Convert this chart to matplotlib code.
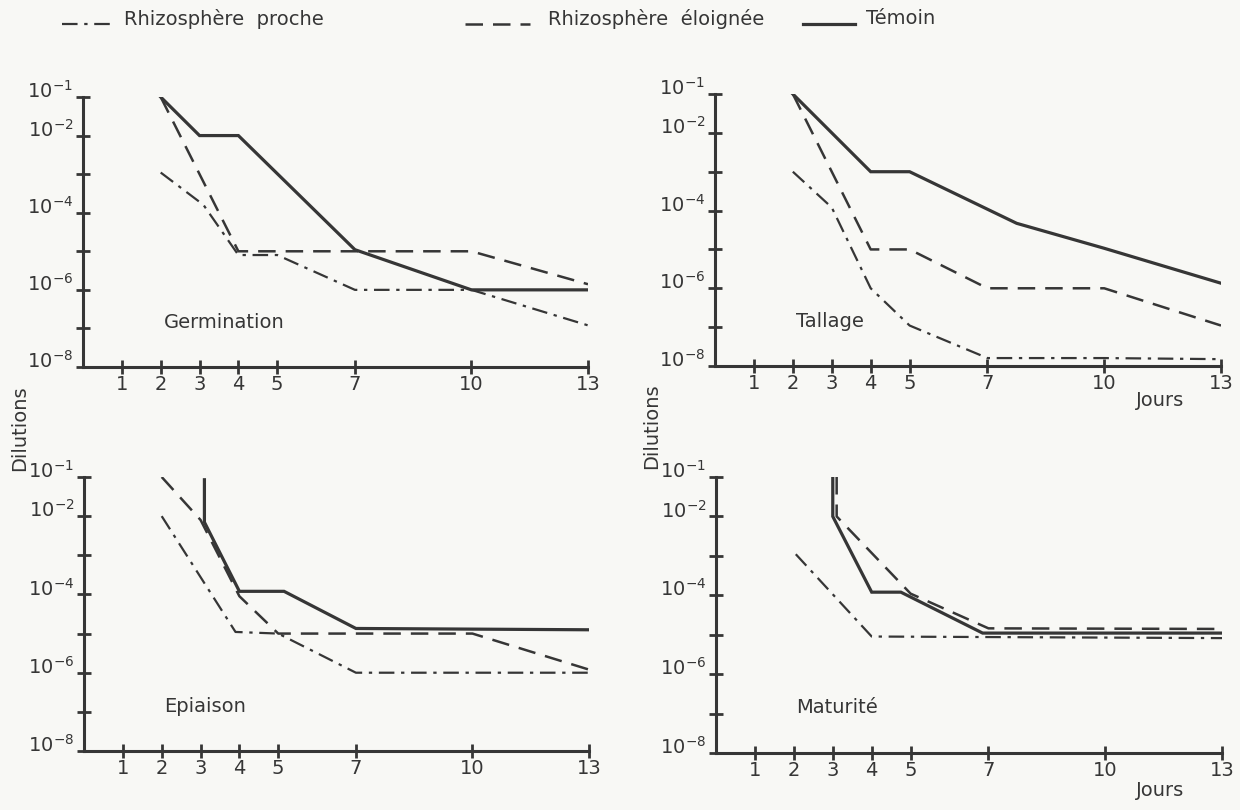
import math
import matplotlib
matplotlib.use("Agg")
import matplotlib.pyplot as plt
from matplotlib.lines import Line2D
from matplotlib.ticker import FixedLocator, FuncFormatter
from matplotlib.transforms import ScaledTranslation

# days (x) and dilution (y) for each stage
germ_temoin_x = [2, 3, 4, 7, 10, 13]
germ_temoin_y = [1e-1, 1e-2, 1e-2, 1.1e-5, 1e-6, 1e-6]
germ_eloig_x = [2, 4, 10, 13]
germ_eloig_y = [1e-1, 1e-5, 1e-5, 1.4e-6]
germ_proche_x = [2, 3.1, 4, 5, 7, 10, 13]
germ_proche_y = [1.1e-3, 1.6e-4, 8e-6, 8e-6, 1e-6, 1e-6, 1.2e-7]

tall_temoin_x = [2, 3, 4, 5, 7.75, 10, 13]
tall_temoin_y = [1e-1, 1e-2, 1e-3, 1e-3, 4.7e-5, 1.07e-5, 1.35e-6]
tall_eloig_x = [2, 4, 5, 7, 10, 13]
tall_eloig_y = [1e-1, 1e-5, 1e-5, 1e-6, 1e-6, 1.1e-7]
tall_proche_x = [2, 3, 4, 5, 7, 10, 13]
tall_proche_y = [1e-3, 1.2e-4, 1e-6, 1.1e-7, 1.6e-8, 1.6e-8, 1.5e-8]

epi_temoin_x = [3.1, 3.1, 4, 5.15, 7, 13]
epi_temoin_y = [8.5e-2, 7e-3, 1.2e-4, 1.2e-4, 1.35e-5, 1.25e-5]
epi_eloig_x = [2, 3, 4, 5, 10, 13]
epi_eloig_y = [1e-1, 8e-3, 9e-5, 1e-5, 1e-5, 1.2e-6]
epi_proche_x = [2, 3.9, 5, 7, 13]
epi_proche_y = [1e-2, 1.1e-5, 1e-5, 1e-6, 1e-6]

mat_temoin_x = [3, 3, 4, 4.75, 6.85, 13]
mat_temoin_y = [1e-1, 1e-2, 1.2e-4, 1.2e-4, 1.1e-5, 1.1e-5]
mat_eloig_x = [3.1, 3.1, 5, 7, 13]
mat_eloig_y = [1e-1, 1e-2, 1.1e-4, 1.45e-5, 1.4e-5]
mat_proche_x = [2.05, 4, 13]
mat_proche_y = [1.1e-3, 9e-6, 8.2e-6]

day_ticks = [1, 2, 3, 4, 5, 7, 10, 13]
decades = [1e-8, 1e-7, 1e-6, 1e-5, 1e-4, 1e-3, 1e-2, 1e-1]
labelled = {-1, -2, -4, -6, -8}

INK = "#363636"
PAPER = "#f8f8f5"
DASH = (0, (7, 4))
DASHDOT = (0, (7, 3, 1.5, 3))
W, H = 1240, 810

plt.rcParams["font.family"] = ["DejaVu Sans"]

fig = plt.figure(figsize=(12.4, 8.1), dpi=100, facecolor=PAPER)


def exp_label(v, pos):
    e = int(round(math.log10(v)))
    return r"$10^{%d}$" % e if e in labelled else ""


def px_rect(x0, x1, ytop, ybot):
    # axes box from pixel edges of the reference
    return [x0 / W, 1 - ybot / H, (x1 - x0) / W, (ybot - ytop) / H]


def panel(rect, name, tx, ty, ex, ey, px, py):
    ax = fig.add_axes(rect)
    ax.set_facecolor("none")
    ax.plot(tx, ty, color=INK, lw=2.3, ls="-", solid_joinstyle="miter")
    ax.plot(ex, ey, color=INK, lw=1.8, ls=DASH)
    ax.plot(px, py, color=INK, lw=1.6, ls=DASHDOT)
    ax.set_yscale("log")
    ax.set_xlim(0, 13)
    ax.set_ylim(1e-8, 1e-1)
    ax.spines["top"].set_visible(False)
    ax.spines["right"].set_visible(False)
    for s in ("left", "bottom"):
        ax.spines[s].set_linewidth(2.2)
        ax.spines[s].set_color(INK)
    ax.xaxis.set_major_locator(FixedLocator(day_ticks))
    ax.set_xticklabels([str(d) for d in day_ticks])
    ax.yaxis.set_major_locator(FixedLocator(decades))
    ax.yaxis.set_minor_locator(FixedLocator([]))
    ax.yaxis.set_major_formatter(FuncFormatter(exp_label))
    ax.tick_params(axis="both", direction="inout", length=10, width=2,
                   color=INK, labelcolor=INK, labelsize=14)
    ax.tick_params(axis="y", pad=2)
    ax.tick_params(axis="x", pad=1)
    # the exponent labels sit a little above their ticks in the original
    lift = ScaledTranslation(0, 0.08, fig.dpi_scale_trans)
    for lab in ax.get_yticklabels():
        lab.set_transform(lab.get_transform() + lift)
    ax.text(2.07, 1.4e-7, name, fontsize=14, color=INK, ha="left", va="center")
    return ax


panel(px_rect(83, 588, 97, 367), "Germination",
      germ_temoin_x, germ_temoin_y, germ_eloig_x, germ_eloig_y, germ_proche_x, germ_proche_y)
panel(px_rect(715, 1221, 94, 366), "Tallage",
      tall_temoin_x, tall_temoin_y, tall_eloig_x, tall_eloig_y, tall_proche_x, tall_proche_y)
panel(px_rect(84, 589, 477, 751), "Epiaison",
      epi_temoin_x, epi_temoin_y, epi_eloig_x, epi_eloig_y, epi_proche_x, epi_proche_y)
panel(px_rect(716, 1222, 477, 753), "Maturité",
      mat_temoin_x, mat_temoin_y, mat_eloig_x, mat_eloig_y, mat_proche_x, mat_proche_y)

# axis titles
fig.text(20 / W, 1 - 428 / H, "Dilutions", rotation=90, fontsize=14,
         color=INK, ha="center", va="center")
fig.text(652 / W, 1 - 426 / H, "Dilutions", rotation=90, fontsize=14,
         color=INK, ha="center", va="center")
fig.text(1160 / W, 1 - 400 / H, "Jours", fontsize=14, color=INK,
         ha="center", va="center")
fig.text(1160 / W, 1 - 791 / H, "Jours", fontsize=14, color=INK,
         ha="center", va="center")

# legend across the top
legend_items = [
    (62, 116, 124, DASHDOT, 1.6, "Rhizosphère  proche"),
    (465, 530, 548, DASH, 1.8, "Rhizosphère  éloignée"),
    (803, 855, 866, "-", 2.3, "Témoin"),
]
for x0, x1, xt, ls, lw, txt in legend_items:
    fig.add_artist(Line2D([x0 / W, x1 / W], [1 - 24 / H, 1 - 24 / H],
                          color=INK, ls=ls, lw=lw, transform=fig.transFigure))
    fig.text(xt / W, 1 - 19 / H, txt, fontsize=14, color=INK,
             ha="left", va="center")

fig.savefig("out.png", dpi=100, facecolor=PAPER)
